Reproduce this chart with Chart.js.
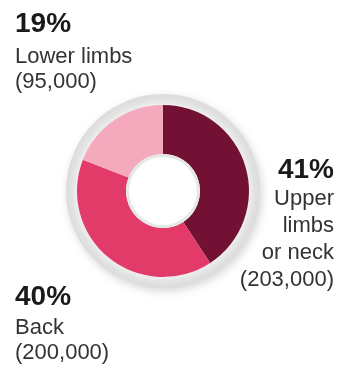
<!DOCTYPE html>
<html>
<head>
<meta charset="utf-8">
<script src="https://cdn.jsdelivr.net/npm/chart.js@4.4.1/dist/chart.umd.min.js"></script>
<style>
  html, body { margin: 0; padding: 0; background: #fff; }
  #wrap { width: 338px; height: 369px; position: relative; }
</style>
</head>
<body>
<div id="wrap"><canvas id="injuries"></canvas></div>
<script>
// Musculoskeletal cases by body area
const categories = ['Upper limbs or neck', 'Back', 'Lower limbs'];
const cases = [203000, 200000, 95000];
const labelLines = [['Upper', 'limbs', 'or neck'], ['Back'], ['Lower limbs']];
const sliceColors = ['#721133', '#e23b69', '#f5a9bd'];

// where each text block sits: x, baseline of the percentage, baselines of the lines below
const labelSpots = [
  { x: 334, align: 'right', pctY: 178, lineY: [205, 232, 259, 286] },
  { x: 15, align: 'left', pctY: 305, lineY: [334, 359] },
  { x: 15, align: 'left', pctY: 32, lineY: [63, 88] }
];

const total = cases.reduce((a, b) => a + b, 0);

// grey disc behind the ring and the bevelled hole in the middle
const discPlugin = {
  id: 'disc',
  beforeDatasetsDraw(chart) {
    const arc = chart.getDatasetMeta(0).data[0];
    if (!arc) return;
    const { x, y, outerRadius } = arc.getProps(['x', 'y', 'outerRadius'], true);
    const ctx = chart.ctx;
    ctx.save();
    ctx.shadowColor = 'rgba(0,0,0,0.16)';
    ctx.shadowBlur = 9;
    ctx.shadowOffsetX = 2;
    ctx.shadowOffsetY = 3;
    ctx.beginPath();
    ctx.arc(x, y, outerRadius + 11, 0, Math.PI * 2);
    const grad = ctx.createRadialGradient(x, y, outerRadius, x, y, outerRadius + 11);
    grad.addColorStop(0, '#efefef');
    grad.addColorStop(0.5, '#e2e2e2');
    grad.addColorStop(1, '#dcdcdc');
    ctx.fillStyle = grad;
    ctx.fill();
    ctx.restore();
  },
  afterDatasetsDraw(chart) {
    const arc = chart.getDatasetMeta(0).data[0];
    if (!arc) return;
    const { x, y, innerRadius } = arc.getProps(['x', 'y', 'innerRadius'], true);
    const ctx = chart.ctx;
    ctx.save();
    ctx.beginPath();
    ctx.arc(x, y, innerRadius, 0, Math.PI * 2);
    ctx.fillStyle = '#e4e9e6';
    ctx.fill();
    ctx.beginPath();
    ctx.arc(x, y, innerRadius - 3, 0, Math.PI * 2);
    ctx.fillStyle = '#ffffff';
    ctx.fill();
    ctx.restore();
  }
};

// percentage + name + count next to the ring
const labelPlugin = {
  id: 'sliceLabels',
  afterDraw(chart) {
    const ctx = chart.ctx;
    const values = chart.data.datasets[0].data;
    ctx.save();
    values.forEach((v, i) => {
      const spot = labelSpots[i];
      const pct = Math.round(v / total * 100) + '%';
      ctx.textAlign = spot.align;
      ctx.textBaseline = 'alphabetic';
      ctx.fillStyle = '#1a1a1a';
      ctx.font = 'bold 28px "Liberation Sans"';
      ctx.fillText(pct, spot.x, spot.pctY);
      ctx.font = '22px "Liberation Sans"';
      ctx.fillStyle = '#333333';
      const lines = labelLines[i].concat(['(' + v.toLocaleString('en-US') + ')']);
      lines.forEach((line, j) => {
        ctx.fillText(line, spot.x, spot.lineY[j]);
      });
    });
    ctx.restore();
  }
};

new Chart(document.getElementById('injuries'), {
  type: 'doughnut',
  data: {
    labels: categories,
    datasets: [{
      data: cases,
      backgroundColor: sliceColors,
      borderWidth: 0,
      hoverOffset: 0
    }]
  },
  options: {
    responsive: true,
    maintainAspectRatio: false,
    animation: false,
    cutout: '43%',
    layout: { padding: { left: 77, right: 89, top: 105, bottom: 92 } },
    plugins: {
      legend: { display: false },
      tooltip: { enabled: false }
    }
  },
  plugins: [discPlugin, labelPlugin]
});
</script>
</body>
</html>
